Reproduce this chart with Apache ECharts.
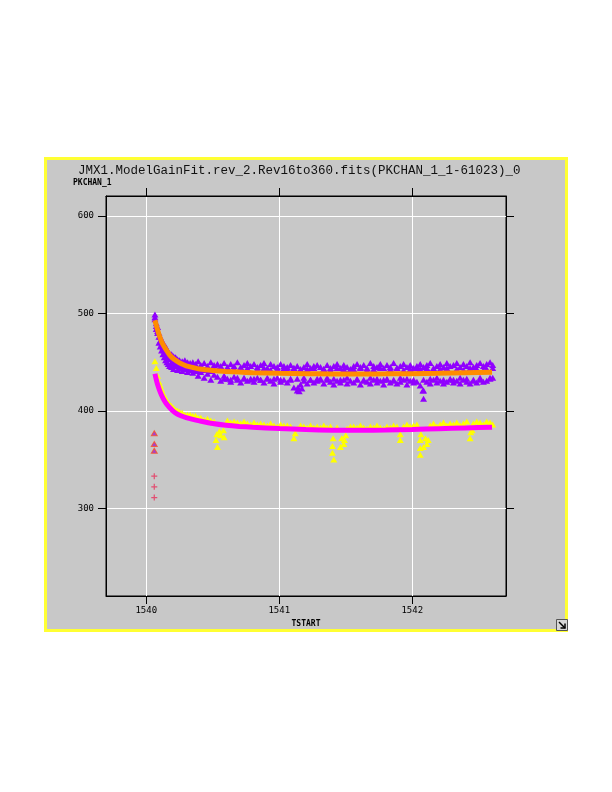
<!DOCTYPE html>
<html>
<head>
<meta charset="utf-8">
<script src="https://cdn.jsdelivr.net/npm/echarts@6/dist/echarts.min.js"></script>
<style>
html,body{margin:0;padding:0;background:#ffffff;}
#chart{width:612px;height:792px;}
</style>
</head>
<body>
<div id="chart"></div>
<script>
// ---------- data ----------
const chartTitle = "JMX1.ModelGainFit.rev_2.Rev16to360.fits(PKCHAN_1_1-61023)_0";
const yName = "PKCHAN_1";
const xName = "TSTART";
const xTicks = [1540, 1541, 1542];
const yTicks = [300, 400, 500, 600];

const scatterTimes = [
1540.065,1540.075,1540.085,1540.095,1540.105,1540.115,1540.125,1540.135,1540.145,1540.155,
1540.165,1540.175,1540.19,1540.205,1540.22,1540.235,1540.25,1540.27,1540.29,1540.31,
1540.33,1540.35,1540.37,1540.39,1540.41,1540.435,1540.46,1540.485,1540.51,1540.535,
1540.56,1540.585,1540.61,1540.635,1540.66,1540.685,1540.71,1540.735,1540.76,1540.785,
1540.81,1540.835,1540.86,1540.885,1540.91,1540.935,1540.96,1540.985,1541.01,1541.035,
1541.06,1541.085,1541.11,1541.135,1541.16,1541.185,1541.21,1541.235,1541.26,1541.285,
1541.31,1541.335,1541.36,1541.385,1541.41,1541.435,1541.46,1541.485,1541.51,1541.535,
1541.56,1541.585,1541.61,1541.635,1541.66,1541.685,1541.71,1541.735,1541.76,1541.785,
1541.81,1541.835,1541.86,1541.885,1541.91,1541.935,1541.96,1541.985,1542.01,1542.035,
1542.06,1542.085,1542.11,1542.135,1542.16,1542.185,1542.21,1542.235,1542.26,1542.285,
1542.31,1542.335,1542.36,1542.385,1542.41,1542.435,1542.46,1542.485,1542.51,1542.535,
1542.56,1542.585,1542.605
];

const purpleHi = [
499,490,486,480,476,473,470,468,466,463,
461,459,458,456,455,453,452,451,452,450,
449,450,448,451,447,449,446,450,447,448,
446,449,445,448,446,450,445,447,449,446,
448,445,447,449,444,448,446,445,448,446,
445,447,444,446,443,445,448,444,446,447,
445,443,447,444,446,448,444,447,445,443,
446,448,445,447,444,449,446,445,448,444,
447,445,449,444,446,448,445,447,444,446,
448,445,447,449,444,446,448,445,449,446,
447,449,445,448,446,450,445,447,449,446,
448,450,447
];

const purpleMid = [
494,487,482,476,472,468,465,462,459,457,
455,453,450,449,448,447,446,445,444,444,
443,442,444,441,443,442,444,441,443,442,
443,433,444,432,443,434,442,433,444,432,
433,443,432,444,434,442,433,443,432,444,
443,432,444,433,442,434,443,432,444,433,
432,443,434,442,433,444,432,443,434,442,
443,433,444,432,442,434,443,433,444,432,
433,443,432,444,434,442,433,443,432,444,
443,432,444,433,442,434,443,432,444,433,
432,443,434,442,433,444,432,443,434,442,
443,434,444
];

const purpleLo = [
496,484,480,470,466,462,458,455,452,450,
448,446,445,443,446,442,444,441,443,440,
442,439,441,436,440,434,438,432,437,435,
431,436,433,430,435,432,429,434,431,433,
430,434,432,429,433,431,428,434,430,432,
429,433,424,421,427,431,428,432,429,431,
433,428,432,430,427,431,429,432,428,431,
429,432,427,431,430,428,432,429,431,427,
432,429,431,428,430,432,427,431,429,430,
426,421,430,428,432,429,431,428,430,432,
429,431,428,432,430,428,431,429,432,430,
431,433,434
];

const purpleExtra = [
[1541.14, 424], [1541.15, 420], [1541.17, 423],
[1542.08, 421], [1542.085, 412.5]
];

const yellowVals = [
451,444,436,430,426,422,418,415,413,410,
408,407,405,403,401,400,399,398,396,396,
396,395,395,393,393,391,392,390,389,363,
375,373,390,388,389,388,387,389,387,386,
388,386,387,386,385,387,385,384,386,385,
385,384,372,382,385,384,383,385,383,384,
383,385,383,384,350,383,363,366,382,384,
384,383,385,383,382,384,383,385,383,382,
384,383,385,384,370,384,386,384,385,386,
355,363,366,385,387,384,386,388,385,387,
386,388,385,387,389,372,387,389,388,386,
389,388,386
];

const yellowExtra = [
[1540.524, 370], [1540.53, 376], [1540.55, 379], [1540.58, 380],
[1541.12, 377], [1541.40, 357], [1541.40, 364], [1541.405, 372],
[1541.47, 372], [1541.49, 370], [1541.50, 375],
[1541.91, 376], [1542.06, 362], [1542.06, 370], [1542.065, 376],
[1542.10, 372], [1542.12, 370], [1542.44, 378], [1542.45, 380]
];

const fitTimes = [1540.065,1540.075,1540.085,1540.1,1540.115,1540.13,1540.15,1540.175,1540.2,1540.23,1540.26,1540.3,1540.35,1540.4,1540.5,1540.6,1540.7,1540.8,1541.0,1541.2,1541.4,1541.6,1541.8,1542.0,1542.2,1542.4,1542.6];
const orangeFit = [493,488,483,476.5,471,467,462.5,457.5,454,451,448.5,446.2,444.5,443,441.5,440.5,439.8,439.2,438.5,438.1,437.9,437.9,438.0,438.2,438.6,439.1,439.6];
const magentaFit = [438,432,427,421,416,412,407.5,403.5,400,397,395,393,391.2,389.7,387,385.2,384,383.2,381.8,380.8,380.2,380.0,380.3,380.9,381.7,382.5,383.3];

const outlierTri = [[1540.06, 377], [1540.06, 366], [1540.06, 359]];
const outlierCross = [[1540.06, 333], [1540.06, 322], [1540.06, 311]];

// ---------- build ----------
const pair = (ts, vs) => ts.map((t, i) => [t, vs[i]]);
const crossPath = 'path://M2,0H3V2H5V3H3V5H2V3H0V2H2Z';
const monoFont = '"DejaVu Sans Mono", "Liberation Mono", monospace';

const X_MIN = 1539.697, X_MAX = 1542.705;
const Y_MIN = 210, Y_MAX = 620.5;

const chart = echarts.init(document.getElementById('chart'), null, {renderer: 'canvas'});

const axisCommonX = {
  type: 'value', min: X_MIN, max: X_MAX,
  axisLine: {show: true, onZero: false, lineStyle: {color: '#000', width: 1}},
  axisTick: {show: true, inside: false, length: 8, customValues: xTicks, lineStyle: {color: '#000'}},
};
const axisCommonY = {
  type: 'value', min: Y_MIN, max: Y_MAX,
  axisLine: {show: true, onZero: false, lineStyle: {color: '#000', width: 1}},
  axisTick: {show: true, inside: false, length: 8, customValues: yTicks, lineStyle: {color: '#000'}},
};

const triSize = [7, 6];
const option = {
  backgroundColor: '#ffffff',
  animation: false,
  graphic: [
    {type: 'rect', z: -10, shape: {x: 45.5, y: 158.5, width: 521, height: 472},
     style: {fill: '#c8c8c8', stroke: '#ffff33', lineWidth: 3}},
    {type: 'text', left: 73, top: 179, style: {text: yName, font: 'bold 8px ' + monoFont, fill: '#000'}},
    {type: 'group', left: 556, top: 619, children: [
      {type: 'rect', shape: {x: 0, y: 0, width: 11, height: 11}, style: {fill: '#d8d8d8', stroke: '#555', lineWidth: 1}},
      {type: 'polyline', shape: {points: [[2.5, 2.5], [8.5, 8.5]]}, style: {stroke: '#000', lineWidth: 1.5, fill: null}},
      {type: 'polyline', shape: {points: [[8.5, 4], [8.5, 8.5], [4, 8.5]]}, style: {stroke: '#000', lineWidth: 1.5, fill: null}}
    ]}
  ],
  title: {
    text: chartTitle, left: 73, top: 159,
    textStyle: {fontFamily: '"Liberation Mono", "DejaVu Sans Mono", monospace', fontSize: 12.5, fontWeight: 'normal', color: '#111'}
  },
  grid: {left: 106, top: 196, width: 400, height: 400, show: true, borderColor: '#000', borderWidth: 1, backgroundColor: 'transparent'},
  xAxis: [
    Object.assign({}, axisCommonX, {
      position: 'bottom',
      name: xName, nameLocation: 'middle', nameGap: 22,
      nameTextStyle: {fontFamily: monoFont, fontSize: 8, fontWeight: 'bold', color: '#000'},
      axisLabel: {show: true, customValues: xTicks, margin: 10, fontFamily: monoFont, fontSize: 9, color: '#000', formatter: v => String(Math.round(v))},
      splitLine: {show: true, lineStyle: {color: '#ffffff', width: 1}}
    }),
    Object.assign({}, axisCommonX, {
      position: 'top',
      axisLabel: {show: false},
      splitLine: {show: false}
    })
  ],
  yAxis: [
    Object.assign({}, axisCommonY, {
      position: 'left',
      axisLabel: {show: true, customValues: yTicks, margin: 12, fontFamily: monoFont, fontSize: 9, color: '#000', formatter: v => String(Math.round(v))},
      splitLine: {show: true, lineStyle: {color: '#ffffff', width: 1}}
    }),
    Object.assign({}, axisCommonY, {
      position: 'right',
      axisLabel: {show: false},
      splitLine: {show: false}
    })
  ],
  series: [
    {type: 'scatter', name: 'purple', data: pair(scatterTimes, purpleHi), symbol: 'triangle', symbolSize: triSize,
     itemStyle: {color: '#9000ff', opacity: 1}, z: 2, silent: true},
    {type: 'scatter', name: 'purpleMid', data: pair(scatterTimes, purpleMid), symbol: 'triangle', symbolSize: triSize,
     itemStyle: {color: '#9000ff', opacity: 1}, z: 2, silent: true},
    {type: 'scatter', name: 'purpleLo', data: pair(scatterTimes, purpleLo), symbol: 'triangle', symbolSize: triSize,
     itemStyle: {color: '#9000ff', opacity: 1}, z: 2, silent: true},
    {type: 'scatter', name: 'purpleExtra', data: purpleExtra, symbol: 'triangle', symbolSize: triSize,
     itemStyle: {color: '#9000ff', opacity: 1}, z: 2, silent: true},
    {type: 'line', name: 'orangeFit', data: pair(fitTimes, orangeFit), smooth: 0.2, showSymbol: false,
     lineStyle: {color: '#ff8c00', width: 5}, z: 3, silent: true},
    {type: 'scatter', name: 'yellow', data: pair(scatterTimes, yellowVals), symbol: 'triangle', symbolSize: triSize,
     itemStyle: {color: '#ffff00', opacity: 1}, z: 4, silent: true},
    {type: 'scatter', name: 'yellowExtra', data: yellowExtra, symbol: 'triangle', symbolSize: triSize,
     itemStyle: {color: '#ffff00', opacity: 1}, z: 4, silent: true},
    {type: 'line', name: 'magentaFit', data: pair(fitTimes, magentaFit), smooth: 0.2, showSymbol: false,
     lineStyle: {color: '#ff00ff', width: 5}, z: 5, silent: true},
    {type: 'scatter', name: 'outTri', data: outlierTri, symbol: 'triangle', symbolSize: [6, 5],
     itemStyle: {color: '#9a20d0', borderColor: '#ff5020', borderWidth: 1}, z: 6, silent: true},
    {type: 'scatter', name: 'outCross', data: outlierCross, symbol: crossPath, symbolSize: 6,
     itemStyle: {color: '#e8305a'}, z: 6, silent: true}
  ]
};
chart.setOption(option);
</script>
</body>
</html>
